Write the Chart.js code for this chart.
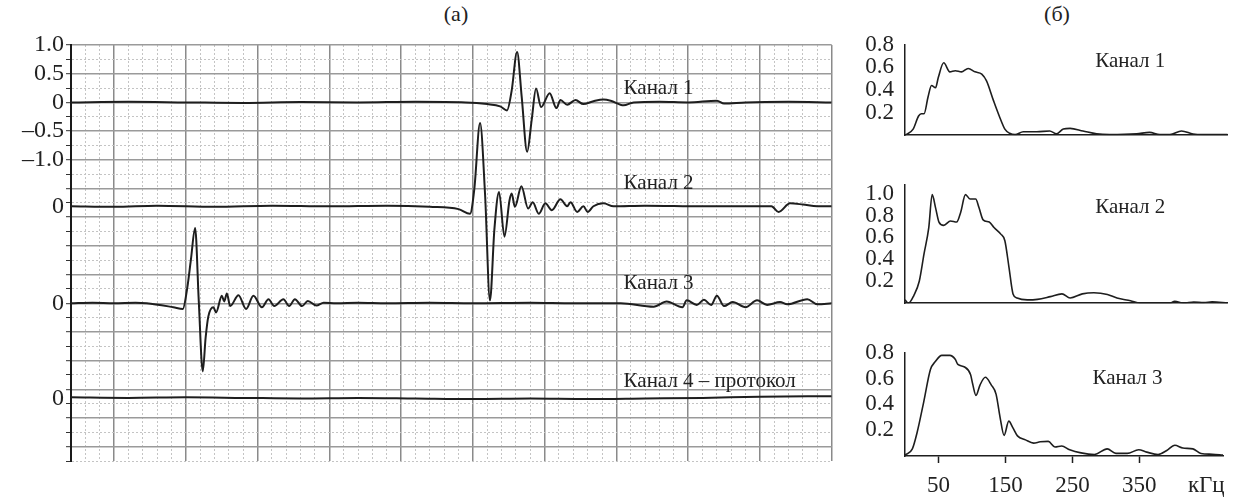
<!DOCTYPE html>
<html lang="ru">
<head>
<meta charset="utf-8">
<title>Осциллограммы и спектры</title>
<script src="https://cdn.jsdelivr.net/npm/chart.js@4.4.1/dist/chart.umd.min.js"></script>
<style>
  html, body { margin: 0; padding: 0; background: #fff; }
  body { width: 1234px; height: 497px; position: relative; overflow: hidden;
         font-family: 'Liberation Serif', 'Times New Roman', serif; color: #222; }
  .box { position: absolute; }
  .panel-title { position: absolute; top: 2px; font-size: 22px; line-height: 24px; transform: translateX(-50%); }
</style>
</head>
<body>
<div class="panel-title" style="left:456px">(а)</div>
<div class="panel-title" style="left:1057px">(б)</div>
<div class="box" style="left:0;top:0;width:845px;height:497px"><canvas id="chart-osc"></canvas></div>
<div class="box" style="left:845px;top:0;width:389px;height:160px"><canvas id="chart-spec-1"></canvas></div>
<div class="box" style="left:845px;top:160px;width:389px;height:168px"><canvas id="chart-spec-2"></canvas></div>
<div class="box" style="left:845px;top:328px;width:389px;height:169px"><canvas id="chart-spec-3"></canvas></div>
<script>
const SERIF = "'Liberation Serif', 'Times New Roman', serif";
const INK = '#1e1e1e';
const NONE = 'rgba(0,0,0,0)';

// (а) осциллограммы, время в делениях сетки
const ch1T = [0, 4, 8, 12, 16, 20, 24, 27.5, 29, 29.9, 30.38, 30.7, 31.08, 31.4, 31.78, 32.1, 32.4, 32.75, 33.35, 33.82, 34.1, 34.57, 35.15, 35.7, 36.4, 37.1, 37.6, 38.5, 39.2, 41, 43, 45, 45.5, 47, 50, 53];
const ch1V = [0, 0.01, 0, -0.01, 0.005, 0, 0.01, 0, -0.03, -0.07, -0.14, 0.2, 0.88, 0.1, -0.86, -0.3, 0.24, -0.08, 0.16, -0.1, 0.04, -0.04, 0.04, -0.03, 0.02, 0.05, 0.03, -0.05, 0, 0.01, 0, 0.03, -0.02, 0, 0.01, 0];

const ch2T = [0, 3, 6, 10, 14, 18, 22, 25, 27, 27.8, 28.1, 28.5, 28.85, 29.19, 29.5, 29.82, 30.2, 30.55, 30.7, 30.93, 31.38, 31.85, 32.17, 32.59, 33.05, 33.5, 34.1, 34.57, 34.8, 35.27, 35.7, 36, 36.4, 37.1, 37.8, 40, 44, 48.8, 49.3, 50.1, 51, 52, 53];
const ch2V = [0, -0.01, 0.01, -0.01, 0.01, 0, 0.01, -0.01, -0.05, -0.13, 0.3, 1.45, 0.2, -1.64, -0.4, 0.25, -0.53, 0.1, 0.22, -0.01, 0.35, -0.04, 0.07, -0.13, 0.05, -0.07, 0.12, 0, 0.07, -0.1, 0, -0.1, 0, 0.05, 0, 0.01, 0, 0, -0.1, 0.05, 0.03, 0, 0];

const ch3T = [0, 1.5, 3, 4.5, 5.28, 7.13, 7.79, 8.09, 8.35, 8.65, 8.9, 9.18, 9.38, 9.57, 9.92, 10.11, 10.51, 10.67, 10.86, 11.09, 11.67, 12.2, 12.71, 13.3, 13.76, 14.16, 14.8, 15.2, 15.6, 16.1, 16.5, 17.1, 17.6, 18.5, 20, 22, 25, 28, 32, 35, 38.3, 40.6, 41.5, 42.6, 42.9, 43.6, 44.1, 44.6, 45, 45.5, 46.1, 47, 47.8, 48.5, 49.4, 49.9, 51.3, 52, 53];
const ch3V = [0, 0.01, 0, 0.01, 0, -0.07, -0.1, 0.25, 0.75, 1.31, 0.05, -1.19, -0.6, -0.23, -0.07, -0.16, 0.13, 0.03, 0.17, -0.05, 0.14, -0.1, 0.13, -0.07, 0.07, -0.05, 0.07, -0.05, 0.07, -0.05, 0.04, -0.04, 0.01, 0, 0.01, 0, 0.01, 0, 0.01, 0, 0, -0.06, 0.03, -0.07, 0.05, -0.03, 0.06, -0.03, 0.13, -0.05, 0.02, -0.07, 0.05, -0.03, 0.02, -0.02, 0.07, -0.02, 0];

const ch4T = [0, 4, 8, 12, 16, 20, 24, 28, 32, 36, 40, 44, 48, 53];
const ch4V = [0.02, 0.01, 0.02, 0.01, 0, 0.01, 0, -0.01, 0, -0.01, 0, 0.01, 0.03, 0.04];

const chOffsets = [0, -1.81, -3.5, -5.16];
const oscTickValues = [1, 0.5, 0, -0.5, -1, -1.81, -3.5, -5.16];
const oscTickLabels = ['1.0', '0.5', '0', '–0.5', '–1.0', '0', '0', '0'];
const oscNames = ['Канал 1', 'Канал 2', 'Канал 3', 'Канал 4 – протокол'];
const oscNameX = 38.5;
const oscNameY = [0.25, -1.42, -3.15, -4.87];

// (б) спектры, кГц
const freq1 = [0, 12, 20, 24, 28, 34, 39, 45, 49, 57, 66, 74, 83, 93, 103, 113, 120, 130, 140, 147, 154, 162, 174, 194, 213, 223, 233, 243, 262, 282, 301, 341, 360, 375, 390, 407, 424, 439, 475];
const spec1 = [0, 0.054, 0.17, 0.19, 0.19, 0.34, 0.44, 0.42, 0.51, 0.64, 0.56, 0.57, 0.56, 0.59, 0.56, 0.54, 0.48, 0.31, 0.15, 0.054, 0.017, 0.005, 0.03, 0.03, 0.037, 0.012, 0.054, 0.06, 0.037, 0.012, 0.005, 0.012, 0.025, 0.005, 0.005, 0.037, 0.01, 0.005, 0.005];

const freq2 = [0, 5, 13, 21, 28, 35, 40, 45, 50, 57, 67, 76, 82, 89, 96, 104, 109, 115, 124, 131, 141, 147, 153, 159, 165, 180, 195, 214, 231, 243, 261, 278, 298, 312, 332, 346, 390, 397, 410, 425, 440, 452, 475];
const spec2 = [0.03, 0, 0.07, 0.2, 0.45, 0.69, 0.99, 0.87, 0.74, 0.71, 0.75, 0.74, 0.83, 0.99, 0.95, 0.95, 0.87, 0.76, 0.74, 0.69, 0.63, 0.57, 0.33, 0.085, 0.047, 0.03, 0.035, 0.06, 0.085, 0.047, 0.085, 0.096, 0.08, 0.047, 0.022, 0, 0, 0.018, 0, 0.01, 0.005, 0.012, 0];

const freq3 = [0, 11, 18, 28, 38, 45, 55, 67, 75, 79, 89, 98, 101, 106, 112, 120, 129, 136, 142, 148, 155, 161, 168, 180, 192, 202, 214, 224, 234, 246, 263, 283, 302, 315, 332, 349, 361, 378, 391, 403, 415, 430, 442, 459, 475];
const spec3 = [0.007, 0.055, 0.18, 0.42, 0.67, 0.73, 0.78, 0.78, 0.75, 0.71, 0.69, 0.63, 0.56, 0.47, 0.55, 0.61, 0.55, 0.48, 0.30, 0.16, 0.27, 0.22, 0.156, 0.125, 0.10, 0.11, 0.113, 0.07, 0.078, 0.048, 0.024, 0.012, 0.055, 0.02, 0.02, 0.048, 0.03, 0.012, 0.043, 0.083, 0.062, 0.055, 0.02, 0.014, 0.007];

const specFreqTicks = [50, 150, 250, 350];
const specUnit = 'кГц';
const specUnitAt = 450;
const specNames = ['Канал 1', 'Канал 2', 'Канал 3'];
const specNameX = 280;
const specNameY = [0.65, 0.87, 0.6];

/**
 * Подписи каналов внутри графика (в координатах данных)
 */
const textLabels = {
    id: 'textLabels',
    afterDatasetsDraw(chart, args, opts) {
        const { ctx, scales } = chart;
        ctx.save();
        ctx.font = `${opts.size}px ${SERIF}`;
        ctx.fillStyle = '#222';
        ctx.textAlign = 'left';
        ctx.textBaseline = 'middle';
        (opts.items || []).forEach(it => {
            ctx.fillText(it.text, scales.x.getPixelForValue(it.x), scales.y.getPixelForValue(it.y));
        });
        ctx.restore();
    }
};

const isStep = (v, step) => Math.abs(v / step - Math.round(v / step)) < 1e-6;
const isMajorX = v => (v - 3) % 5 === 0;

function traceDataset(xs, ys, offset, width) {
    return {
        data: xs.map((x, i) => ({ x, y: ys[i] + offset })),
        borderColor: INK,
        borderWidth: width,
        pointRadius: 0,
        fill: false,
        cubicInterpolationMode: 'monotone'
    };
}

/**
 * (а) Осциллограммы
 */
new Chart(document.getElementById('chart-osc'), {
    type: 'line',
    data: {
        datasets: [
            traceDataset(ch1T, ch1V, chOffsets[0], 2),
            traceDataset(ch2T, ch2V, chOffsets[1], 2),
            traceDataset(ch3T, ch3V, chOffsets[2], 2),
            traceDataset(ch4T, ch4V, chOffsets[3], 2)
        ]
    },
    options: {
        responsive: true,
        maintainAspectRatio: false,
        animation: false,
        devicePixelRatio: 1,
        events: [],
        layout: { padding: { left: 0, top: 45, right: 13.3, bottom: 36 } },
        plugins: {
            legend: { display: false },
            tooltip: { enabled: false },
            textLabels: {
                size: 21,
                items: oscNames.map((text, i) => ({ text, x: oscNameX, y: oscNameY[i] }))
            }
        },
        scales: {
            x: {
                type: 'linear',
                min: 0,
                max: 53,
                afterBuildTicks: s => {
                    const t = [];
                    for (let v = 0; v <= 53; v++) t.push({ value: v });
                    s.ticks = t;
                },
                afterFit: s => { s.height = 0; },
                ticks: { display: false },
                grid: {
                    drawTicks: false,
                    color: c => c.tick.value === 0 ? NONE : (isMajorX(c.tick.value) ? '#8a8a8a' : '#c4c4c4'),
                    lineWidth: c => isMajorX(c.tick.value) ? 1.5 : 1
                },
                border: {
                    display: false,
                    dash: c => (c.tick && !isMajorX(c.tick.value)) ? [2, 2] : []
                }
            },
            y: {
                type: 'linear',
                min: -6.25,
                max: 1,
                afterBuildTicks: s => {
                    const vals = [];
                    for (let k = 4; k >= -25; k--) vals.push(k / 4);
                    oscTickValues.forEach(v => {
                        if (!vals.some(u => Math.abs(u - v) < 1e-6)) vals.push(v);
                    });
                    s.ticks = vals.sort((a, b) => a - b).map(value => ({ value }));
                },
                afterFit: s => { s.width = 71; },
                ticks: {
                    autoSkip: false,
                    padding: 2,
                    color: '#222',
                    font: { family: SERIF, size: 24 },
                    callback: v => {
                        const i = oscTickValues.findIndex(u => Math.abs(u - v) < 1e-6);
                        return i < 0 ? '' : oscTickLabels[i];
                    }
                },
                grid: {
                    tickLength: 5,
                    tickWidth: 1,
                    tickColor: c => isStep(c.tick.value, 0.25) ? '#333' : NONE,
                    color: c => {
                        const v = c.tick.value;
                        if (!isStep(v, 0.25)) return NONE;
                        return isStep(v, 0.5) ? '#9a9a9a' : '#c4c4c4';
                    },
                    lineWidth: c => isStep(c.tick.value, 0.5) ? 1.4 : 1
                },
                border: {
                    color: '#1a1a1a',
                    width: 2,
                    dash: c => (c.tick && isStep(c.tick.value, 0.25) && !isStep(c.tick.value, 0.5)) ? [2, 2] : []
                }
            }
        }
    },
    plugins: [textLabels]
});

/**
 * (б) Спектры
 */
function spectrumChart(id, freq, vals, yMax, yTicks, nameIndex, pad, withAxis) {
    return new Chart(document.getElementById(id), {
        type: 'line',
        data: { datasets: [traceDataset(freq, vals, 0, 1.6)] },
        options: {
            responsive: true,
            maintainAspectRatio: false,
            animation: false,
            devicePixelRatio: 1,
            events: [],
            layout: { padding: { left: 0, top: pad.top, right: 6.3, bottom: pad.bottom } },
            plugins: {
                legend: { display: false },
                tooltip: { enabled: false },
                textLabels: {
                    size: 21,
                    items: [{ text: specNames[nameIndex], x: specNameX, y: specNameY[nameIndex] }]
                }
            },
            scales: {
                x: {
                    type: 'linear',
                    min: 0,
                    max: 475,
                    afterBuildTicks: s => {
                        if (withAxis) s.ticks = specFreqTicks.concat([specUnitAt]).map(value => ({ value }));
                    },
                    afterFit: s => { s.height = withAxis ? 41 : 0; },
                    ticks: {
                        display: withAxis,
                        autoSkip: false,
                        maxRotation: 0,
                        padding: 9,
                        color: '#222',
                        font: { family: SERIF, size: 23 },
                        callback: v => v === specUnitAt ? specUnit : String(v)
                    },
                    grid: {
                        drawOnChartArea: false,
                        drawTicks: withAxis,
                        tickLength: 7,
                        tickWidth: 1.5,
                        tickColor: c => (c.tick && c.tick.value === specUnitAt) ? NONE : INK
                    },
                    border: { color: INK, width: 1.5 }
                },
                y: {
                    type: 'linear',
                    min: 0,
                    max: yMax,
                    afterBuildTicks: s => { s.ticks = yTicks.map(value => ({ value })); },
                    afterFit: s => { s.width = 60; },
                    ticks: {
                        autoSkip: false,
                        padding: 11,
                        color: '#222',
                        font: { family: SERIF, size: 23 },
                        callback: v => v.toFixed(1)
                    },
                    grid: { drawOnChartArea: false, drawTicks: false },
                    border: { color: INK, width: 1.5 }
                }
            }
        },
        plugins: [textLabels]
    });
}

spectrumChart('chart-spec-1', freq1, spec1, 0.8, [0.2, 0.4, 0.6, 0.8], 0, { top: 44.7, bottom: 7.7 }, false);
spectrumChart('chart-spec-2', freq2, spec2, 1.08, [0.2, 0.4, 0.6, 0.8, 1.0], 1, { top: 13, bottom: 8.3 }, false);
spectrumChart('chart-spec-3', freq3, spec3, 0.8, [0.2, 0.4, 0.6, 0.8], 2, { top: 15.3, bottom: 0 }, true);
</script>
</body>
</html>
